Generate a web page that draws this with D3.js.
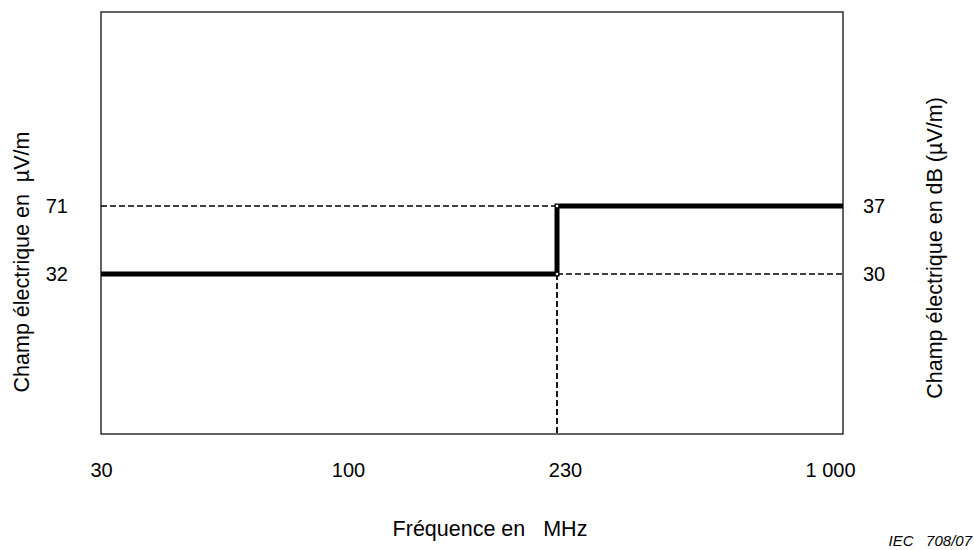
<!DOCTYPE html>
<html>
<head>
<meta charset="utf-8">
<script src="https://cdn.jsdelivr.net/npm/d3@7"></script>
<style>
  body { margin: 0; background: #fff; }
  svg text { font-family: "Liberation Sans", Arial, sans-serif; fill: #000; }
</style>
</head>
<body>
<div id="chart"></div>
<script>
// frequency axis (MHz)
var freqTicks = [30, 100, 230, 1000];
var freqLabels = ['30', '100', '230', '1 000'];

// limit line: dB(µV/m) by frequency
var limitFreq = [30, 230, 1000];
var limitDb = [30, 37, 37];

// level ticks
var dbTicks = [30, 37];
var uvLabels = ['32', '71'];

var width = 974, height = 550;
var margin = { top: 12, right: 131, bottom: 116, left: 101 };
var w = width - margin.left - margin.right;
var h = height - margin.top - margin.bottom;

var svg = d3.select('#chart').append('svg')
    .attr('width', width)
    .attr('height', height);

var g = svg.append('g')
    .attr('transform', 'translate(' + margin.left + ',' + margin.top + ')');

// drawing is not to true log scale, so piecewise linear over the tick values
var x = d3.scaleLinear()
    .domain(freqTicks)
    .range([0, 247, 456, w]);

var y = d3.scaleLinear()
    .domain([13.5, 57])
    .range([h, 0]);

// frame
g.append('rect')
    .attr('width', w)
    .attr('height', h)
    .attr('fill', 'none')
    .attr('stroke', '#222')
    .attr('stroke-width', 1.4);

// dashed guides
var dash = g.append('g')
    .attr('stroke', '#000')
    .attr('stroke-width', 1.4)
    .attr('stroke-dasharray', '6,3')
    .attr('fill', 'none');

dash.append('line')
    .attr('x1', x(freqTicks[0])).attr('x2', x(limitFreq[1]))
    .attr('y1', y(limitDb[1])).attr('y2', y(limitDb[1]));
dash.append('line')
    .attr('x1', x(limitFreq[1])).attr('x2', x(freqTicks[3]))
    .attr('y1', y(limitDb[0])).attr('y2', y(limitDb[0]));
dash.append('line')
    .attr('x1', x(limitFreq[1])).attr('x2', x(limitFreq[1]))
    .attr('y1', y(limitDb[0])).attr('y2', h)
    .attr('stroke-width', 1.8);

// limit line
var pts = limitFreq.map(function(f, i) { return [f, limitDb[i]]; });
var line = d3.line()
    .x(function(d) { return x(d[0]); })
    .y(function(d) { return y(d[1]); })
    .curve(d3.curveStepAfter);

g.append('path')
    .attr('d', line(pts))
    .attr('fill', 'none')
    .attr('stroke', '#000')
    .attr('stroke-width', 5)
    .attr('stroke-linejoin', 'miter')
    .attr('stroke-linecap', 'butt');

// tiny white dots at the step corners
g.selectAll('.corner')
    .data([[limitFreq[1], limitDb[0]], [limitFreq[1], limitDb[1]]])
    .enter().append('circle')
    .attr('class', 'corner')
    .attr('cx', function(d) { return x(d[0]); })
    .attr('cy', function(d) { return y(d[1]); })
    .attr('r', 1.3)
    .attr('fill', '#fff');

// axes
var fontSize = '20px';
var titleSize = '21.5px';

var xAxis = d3.axisBottom(x)
    .tickValues(freqTicks)
    .tickFormat(function(d, i) { return freqLabels[i]; })
    .tickSize(0)
    .tickPadding(29);

var gx = g.append('g')
    .attr('transform', 'translate(0,' + h + ')')
    .call(xAxis);

var yLeft = d3.axisLeft(y)
    .tickValues(dbTicks)
    .tickFormat(function(d, i) { return uvLabels[i]; })
    .tickSize(0)
    .tickPadding(33);

var gl = g.append('g').call(yLeft);

var yRight = d3.axisRight(y)
    .tickValues(dbTicks)
    .tickFormat(function(d) { return d; })
    .tickSize(0)
    .tickPadding(20);

var gr = g.append('g')
    .attr('transform', 'translate(' + w + ',0)')
    .call(yRight);

[gx, gl, gr].forEach(function(a) {
    a.select('.domain').remove();
    a.selectAll('text')
        .style('font-size', fontSize)
        .attr('font-family', null);
});
// label nudges as in the drawing
gx.selectAll('text').attr('dx', function(d) {
    if (d === 230) return 8;
    if (d === 1000) return -13;
    return 0;
});

// axis titles
svg.append('text')
    .attr('transform', 'translate(29,262) rotate(-90)')
    .attr('text-anchor', 'middle')
    .style('font-size', titleSize)
    .style('white-space', 'pre')
    .text('Champ électrique en  µV/m');

svg.append('text')
    .attr('transform', 'translate(942,248) rotate(-90)')
    .attr('text-anchor', 'middle')
    .style('font-size', titleSize)
    .text('Champ électrique en dB (µV/m)');

svg.append('text')
    .attr('x', 490)
    .attr('y', 536)
    .attr('text-anchor', 'middle')
    .style('font-size', titleSize)
    .style('white-space', 'pre')
    .text('Fréquence en   MHz');

svg.append('text')
    .attr('x', 972)
    .attr('y', 546)
    .attr('text-anchor', 'end')
    .style('font-size', '15px')
    .style('font-style', 'italic')
    .style('white-space', 'pre')
    .text('IEC   708/07');
</script>
</body>
</html>
